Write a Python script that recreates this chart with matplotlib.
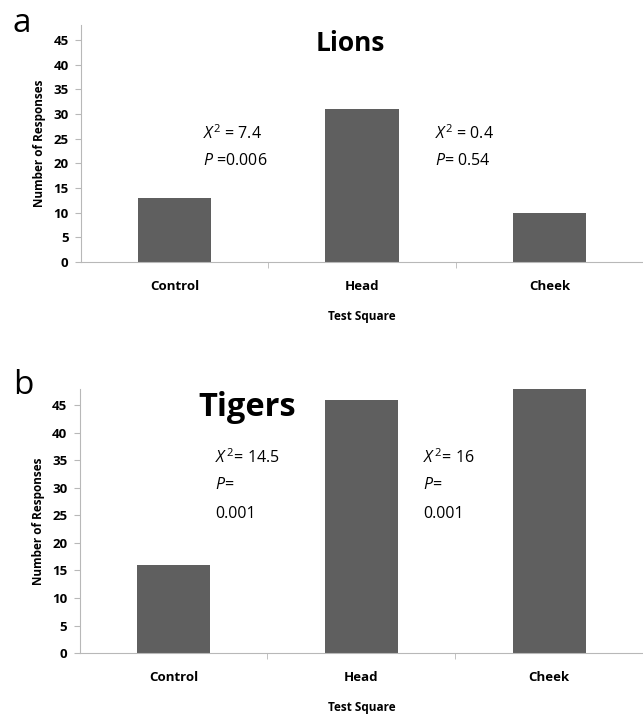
import numpy as np
import matplotlib
matplotlib.use("Agg")
import matplotlib.pyplot as plt
from matplotlib.ticker import FixedLocator

plt.rcParams['font.family'] = ['Open Sans', 'DejaVu Sans']
plt.rcParams['mathtext.fontset'] = 'custom'
plt.rcParams['mathtext.rm'] = 'Open Sans'
plt.rcParams['mathtext.it'] = 'Open Sans:italic'

# data
categories = ['Control', 'Head', 'Cheek']
lions = [13, 31, 10]
tigers = [16, 46, 48]
yticks = [0, 5, 10, 15, 20, 25, 30, 35, 40, 45]

bar_color = '#5f5f5f'
axis_color = '#b8b8b8'

fig = plt.figure(figsize=(6.43, 7.24), dpi=100)
ax1 = fig.add_axes([0.126, 0.638, 0.874, 0.327])
ax2 = fig.add_axes([0.124, 0.098, 0.876, 0.365])

def style(ax, vals):
    x = np.arange(len(categories))
    ax.bar(x, vals, width=0.39, color=bar_color, zorder=2)
    ax.set_xlim(-0.5, 2.5)
    ax.set_ylim(0, 48)
    ax.set_yticks(yticks)
    ax.set_yticklabels([str(t) for t in yticks], fontsize=9.5, fontweight='bold')
    ax.set_xticks(x)
    ax.set_xticklabels(categories, fontsize=9.5, fontweight='bold')
    ax.xaxis.set_minor_locator(FixedLocator([0.5, 1.5]))
    ax.tick_params(axis='x', which='major', length=0, pad=13)
    ax.tick_params(axis='x', which='minor', length=4, color=axis_color)
    ax.tick_params(axis='y', length=4, color=axis_color, pad=5)
    for s in ['top', 'right']:
        ax.spines[s].set_visible(False)
    for s in ['left', 'bottom']:
        ax.spines[s].set_color(axis_color)
    ax.set_ylabel('Number of Responses', fontsize=8.5, fontweight='bold', labelpad=5)
    ax.set_xlabel('Test Square', fontsize=8.5, fontweight='bold', labelpad=12)

style(ax1, lions)
style(ax2, tigers)

# panel a texts
ax1.text(0.94, 44.3, 'Lions', fontsize=19, fontweight='bold', ha='center', va='center')
ax1.text(0.15, 26, r'$\mathit{X}^{2}$ = 7.4', fontsize=11.5, va='center')
ax1.text(0.15, 20.5, r'$\mathit{P}$ =0.006', fontsize=11.5, va='center')
ax1.text(1.39, 26, r'$\mathit{X}^{2}$ = 0.4', fontsize=11.5, va='center')
ax1.text(1.39, 20.5, r'$\mathit{P}$= 0.54', fontsize=11.5, va='center')

# panel b texts
ax2.text(0.39, 44.6, 'Tigers', fontsize=23.5, fontweight='bold', ha='center', va='center')
ax2.text(0.22, 35.5, r'$\mathit{X}^{\,2}$= 14.5', fontsize=11.5, va='center')
ax2.text(0.22, 30.5, r'$\mathit{P}$=', fontsize=11.5, va='center')
ax2.text(0.22, 25.3, '0.001', fontsize=11.5, va='center')
ax2.text(1.33, 35.5, r'$\mathit{X}^{\,2}$= 16', fontsize=11.5, va='center')
ax2.text(1.33, 30.5, r'$\mathit{P}$=', fontsize=11.5, va='center')
ax2.text(1.33, 25.3, '0.001', fontsize=11.5, va='center')

fig.text(0.02, 0.967, 'a', fontsize=24, va='center')
fig.text(0.02, 0.468, 'b', fontsize=24, va='center')

fig.savefig('out.png', dpi=100)
